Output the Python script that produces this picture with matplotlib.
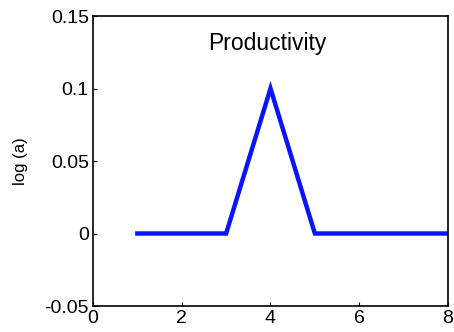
import matplotlib
matplotlib.use('Agg')
import matplotlib.pyplot as plt

x = [1, 2, 3, 4, 5, 6, 7, 8]
y = [0, 0, 0, 0.1, 0, 0, 0, 0]
xticks = [0, 2, 4, 6, 8]
yticks = [-0.05, 0, 0.05, 0.1, 0.15]
yticklabels = ['-0.05', '0', '0.05', '0.1', '0.15']

plt.rcParams['font.family'] = ['Liberation Sans', 'DejaVu Sans']

fig = plt.figure(figsize=(4.54, 3.32), dpi=100)
ax = fig.add_axes([0.2048, 0.0783, 0.7820, 0.8735])

ax.plot(x, y, color='#0a14ff', lw=3.2, solid_joinstyle='miter')
ax.set_xlim(0, 8)
ax.set_ylim(-0.05, 0.15)
ax.set_xticks(xticks)
ax.set_yticks(yticks)
ax.set_yticklabels(yticklabels)
ax.tick_params(direction='in', length=3, width=0.8, labelsize=14, pad=3)
for s in ax.spines.values():
    s.set_linewidth(1.2)
ax.set_ylabel('log (a)', fontsize=12, labelpad=12)
ax.text(0.4915, 0.905, 'Productivity', transform=ax.transAxes, ha='center', va='center', fontsize=16.5)

fig.savefig('out.png', dpi=100)
